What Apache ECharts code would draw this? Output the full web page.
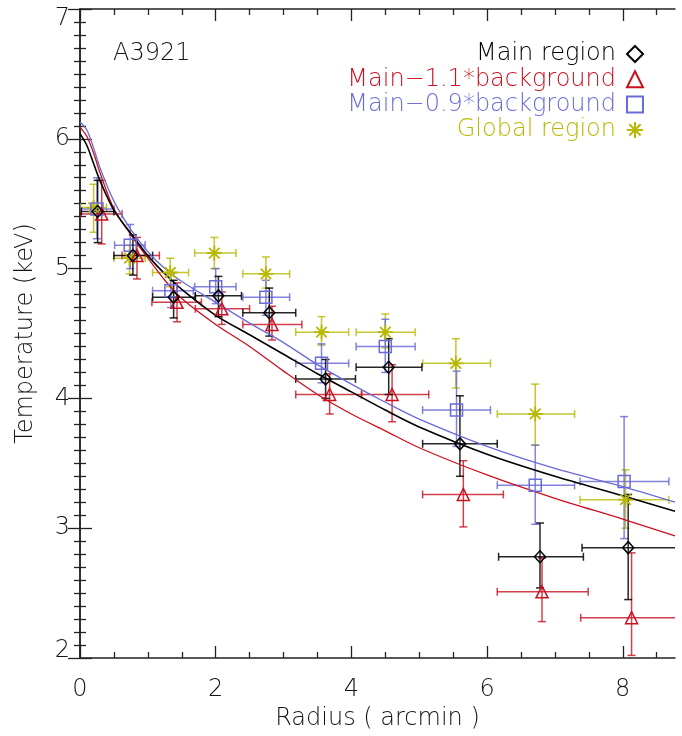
<!DOCTYPE html>
<html>
<head>
<meta charset="utf-8">
<script src="https://cdn.jsdelivr.net/npm/echarts@6/dist/echarts.min.js"></script>
<style>
html,body{margin:0;padding:0;background:#fff;}
#chart{width:682px;height:736px;}
</style>
</head>
<body>
<div id="chart"></div>
<script>
// ---- Data ----
const clusterName = 'A3921';
const seriesNames = ['Main region', 'Main\u22121.1*background', 'Main\u22120.9*background', 'Global region'];

// Main region (diamonds)
const mainR    = [0.26, 0.78, 1.38, 2.04, 2.79, 3.62, 4.55, 5.60, 6.78, 8.08];
const mainT    = [5.44, 5.10, 4.78, 4.79, 4.66, 4.15, 4.24, 3.65, 2.78, 2.85];
const mainRlo  = [0.02, 0.50, 1.07, 1.70, 2.40, 3.18, 4.07, 5.05, 6.17, 7.40];
const mainRhi  = [0.50, 1.07, 1.70, 2.38, 3.18, 4.06, 5.04, 6.15, 7.42, 8.85];
const mainTlo  = [5.20, 4.95, 4.62, 4.63, 4.48, 4.00, 4.03, 3.40, 2.54, 2.45];
const mainThi  = [5.68, 5.26, 4.91, 4.94, 4.85, 4.30, 4.46, 4.02, 3.04, 3.26];

// Main - 1.1*background (triangles)
const bg11R    = [0.32, 0.84, 1.43, 2.09, 2.83, 3.68, 4.60, 5.65, 6.81, 8.13];
const bg11T    = [5.42, 5.10, 4.74, 4.69, 4.57, 4.03, 4.03, 3.26, 2.51, 2.31];
const bg11Rlo  = [0.00, 0.62, 1.06, 1.70, 2.40, 3.18, 4.15, 5.05, 6.15, 7.38];
const bg11Rhi  = [0.62, 1.17, 1.79, 2.50, 3.27, 4.15, 5.14, 6.24, 7.49, 8.85];
const bg11Tlo  = [5.19, 4.92, 4.59, 4.57, 4.45, 3.88, 3.82, 3.01, 2.28, 2.02];
const bg11Thi  = [5.68, 5.24, 4.89, 4.82, 4.71, 4.19, 4.26, 3.52, 2.77, 2.81];

// Main - 0.9*background (squares)
const bg09R    = [0.25, 0.74, 1.34, 2.00, 2.74, 3.56, 4.50, 5.55, 6.71, 8.02];
const bg09T    = [5.46, 5.18, 4.83, 4.86, 4.78, 4.27, 4.40, 3.91, 3.33, 3.36];
const bg09Rlo  = [0.00, 0.51, 1.07, 1.69, 2.40, 3.18, 4.07, 5.05, 6.15, 7.37];
const bg09Rhi  = [0.50, 0.96, 1.67, 2.30, 3.09, 3.96, 4.94, 6.05, 7.29, 8.68];
const bg09Tlo  = [5.23, 5.00, 4.70, 4.73, 4.64, 4.12, 4.20, 3.63, 3.03, 2.92];
const bg09Thi  = [5.70, 5.34, 4.96, 5.00, 4.91, 4.42, 4.61, 4.21, 3.64, 3.86];

// Global region (asterisks)
const globR    = [0.20, 0.73, 1.33, 1.98, 2.74, 3.56, 4.50, 5.54, 6.71, 8.04];
const globT    = [5.47, 5.08, 4.97, 5.12, 4.96, 4.51, 4.51, 4.27, 3.88, 3.22];
const globRlo  = [0.01, 0.50, 1.07, 1.69, 2.40, 3.18, 4.07, 5.05, 6.15, 7.37];
const globRhi  = [0.39, 0.96, 1.60, 2.30, 3.09, 3.96, 4.94, 6.05, 7.29, 8.68];
const globTlo  = [5.28, 4.96, 4.86, 5.00, 4.85, 4.41, 4.39, 4.08, 3.64, 3.00];
const globThi  = [5.65, 5.18, 5.08, 5.24, 5.09, 4.63, 4.65, 4.46, 4.11, 3.45];

// Fitted profiles
const fitR     = [0, 0.1, 0.2, 0.3, 0.5, 0.75, 1, 1.25, 1.5, 2, 2.5, 3, 3.5, 4, 4.5, 5, 6, 7, 8, 8.77];
const fitMain  = [6.04, 5.95, 5.81, 5.67, 5.45, 5.27, 5.10, 4.96, 4.84, 4.64, 4.49, 4.34, 4.19, 4.05, 3.91, 3.78, 3.57, 3.40, 3.25, 3.13];
const fitBg11  = [6.09, 6.02, 5.89, 5.73, 5.46, 5.26, 5.08, 4.91, 4.77, 4.57, 4.40, 4.21, 4.03, 3.88, 3.75, 3.62, 3.41, 3.23, 3.07, 2.94];
const fitBg09  = [6.13, 6.07, 5.93, 5.77, 5.52, 5.30, 5.13, 5.00, 4.90, 4.74, 4.58, 4.43, 4.26, 4.11, 3.97, 3.84, 3.63, 3.46, 3.32, 3.20];

// Axes
const xMin = 0, xMax = 8.77, yMin = 2, yMax = 7;
const xMajor = [0, 2, 4, 6, 8];
const xMinor = [0.5, 1, 1.5, 2.5, 3, 3.5, 4.5, 5, 5.5, 6.5, 7, 7.5, 8.5];

// ---- Styling ----
const FONT = 'DejaVu Sans';
const FW = 200;
const TXT = '#151515';
const AX = '#222222';
const colors = ['#000000', '#cc1020', '#6a6ad8', '#b8b800'];
const barColors = ['rgba(0,0,0,0.85)', 'rgba(200,16,32,0.8)', 'rgba(100,100,215,0.8)', 'rgba(184,184,0,0.8)'];
const symbols = ['diamond', 'triangle', 'rect',
  'path://M10,0L10,20M0,10L20,10M3,3L17,17M3,17L17,3'];

function rows(r, t, rlo, rhi, tlo, thi) {
  return r.map((v, i) => [v, t[i], rlo[i], rhi[i], tlo[i], thi[i]]);
}
function pairs(a, b) { return a.map((v, i) => [v, b[i]]); }

const groups = [
  rows(mainR, mainT, mainRlo, mainRhi, mainTlo, mainThi),
  rows(bg11R, bg11T, bg11Rlo, bg11Rhi, bg11Tlo, bg11Thi),
  rows(bg09R, bg09T, bg09Rlo, bg09Rhi, bg09Tlo, bg09Thi),
  rows(globR, globT, globRlo, globRhi, globTlo, globThi)
];
const fits = [fitMain, fitBg11, fitBg09];

function makeErr(color) {
  return function (params, api) {
    const x = api.value(0), y = api.value(1);
    const c = api.coord([x, y]);
    const xl = api.coord([api.value(2), y])[0];
    const xh = api.coord([api.value(3), y])[0];
    const yl = api.coord([x, api.value(4)])[1];
    const yh = api.coord([x, api.value(5)])[1];
    const cap = 4;
    const st = { stroke: color, lineWidth: 1.5, fill: null };
    return {
      type: 'group',
      children: [
        { type: 'line', shape: { x1: xl, y1: c[1], x2: xh, y2: c[1] }, style: st },
        { type: 'line', shape: { x1: xl, y1: c[1] - cap, x2: xl, y2: c[1] + cap }, style: st },
        { type: 'line', shape: { x1: xh, y1: c[1] - cap, x2: xh, y2: c[1] + cap }, style: st },
        { type: 'line', shape: { x1: c[0], y1: yl, x2: c[0], y2: yh }, style: st },
        { type: 'line', shape: { x1: c[0] - cap, y1: yl, x2: c[0] + cap, y2: yl }, style: st },
        { type: 'line', shape: { x1: c[0] - cap, y1: yh, x2: c[0] + cap, y2: yh }, style: st }
      ]
    };
  };
}

const series = [];
[3, 2, 1, 0].forEach(k => {
  series.push({
    type: 'custom', name: 'err' + k, xAxisIndex: 0, yAxisIndex: 0,
    renderItem: makeErr(barColors[k]), clip: true,
    data: groups[k], encode: { x: [0, 2, 3], y: [1, 4, 5] }, z: 3, silent: true
  });
});
[2, 1, 0].forEach(k => {
  series.push({
    type: 'line', name: 'fit' + k, xAxisIndex: 0, yAxisIndex: 0,
    data: pairs(fitR, fits[k]), smooth: 0.3, showSymbol: false,
    lineStyle: { color: colors[k], width: k === 0 ? 1.6 : 1.3 }, z: 4, silent: true
  });
});
[3, 2, 1, 0].forEach(k => {
  series.push({
    type: 'scatter', name: seriesNames[k], xAxisIndex: 0, yAxisIndex: 0,
    data: groups[k].map(r => [r[0], r[1]]),
    symbol: symbols[k], symbolSize: k === 3 ? 15 : (k === 0 ? [11, 12] : 12),
    itemStyle: { color: 'rgba(0,0,0,0)', borderColor: colors[k], borderWidth: k === 3 ? 1.8 : 1.5, opacity: 1 },
    z: 5, silent: true
  });
});

const tickStyle = { color: AX, width: 1.3 };
const labelStyle = { fontFamily: FONT, fontSize: 24, fontWeight: FW, color: TXT };

const option = {
  animation: false,
  backgroundColor: '#fff',
  textStyle: { fontFamily: FONT, fontWeight: FW },
  title: {
    text: clusterName, left: 108, top: 37,
    textStyle: { fontFamily: FONT, fontSize: 24, fontWeight: FW, color: TXT }
  },
  legend: {
    orient: 'vertical', right: 33, top: 37, align: 'right',
    itemWidth: 16, itemHeight: 16, itemGap: 1.3, selectedMode: false,
    textStyle: { fontFamily: FONT, fontSize: 24, fontWeight: FW, lineHeight: 24, padding: [0, 6, 0, 0] },
    data: seriesNames.map((n, k) => ({ name: n, textStyle: { color: colors[k] } }))
  },
  grid: [
    { left: 80, top: 9, width: 595, height: 649, containLabel: false },
    { left: 80, top: 9, width: 595, height: 649, containLabel: false }
  ],
  xAxis: [
    {
      type: 'value', gridIndex: 0, position: 'bottom', min: xMin, max: xMax,
      axisLine: { show: true, lineStyle: { color: AX, width: 1.5 } },
      axisTick: { show: true, inside: true, length: 12, lineStyle: tickStyle, customValues: xMajor },
      axisLabel: Object.assign({ margin: 20, customValues: xMajor }, labelStyle),
      splitLine: { show: false },
      name: 'Radius ( arcmin )', nameLocation: 'middle', nameGap: 47,
      nameTextStyle: { fontFamily: FONT, fontSize: 24, fontWeight: FW, color: TXT }
    },
    {
      type: 'value', gridIndex: 0, position: 'top', min: xMin, max: xMax,
      axisLine: { show: true, lineStyle: { color: AX, width: 1.5 } },
      axisTick: { show: true, inside: true, length: 12, lineStyle: tickStyle, customValues: xMajor },
      axisLabel: { show: false }, splitLine: { show: false }
    },
    {
      type: 'value', gridIndex: 1, position: 'bottom', min: xMin, max: xMax,
      axisLine: { show: false },
      axisTick: { show: true, inside: true, length: 6, lineStyle: tickStyle, customValues: xMinor },
      axisLabel: { show: false }, splitLine: { show: false }
    },
    {
      type: 'value', gridIndex: 1, position: 'top', min: xMin, max: xMax,
      axisLine: { show: false },
      axisTick: { show: true, inside: true, length: 6, lineStyle: tickStyle, customValues: xMinor },
      axisLabel: { show: false }, splitLine: { show: false }
    }
  ],
  yAxis: [
    {
      type: 'value', gridIndex: 0, position: 'left', min: yMin, max: yMax, interval: 1,
      axisLine: { show: true, lineStyle: { color: AX, width: 1.5 } },
      axisTick: { show: true, inside: true, length: 12, lineStyle: tickStyle },
      minorTick: { show: true, splitNumber: 10, length: 6, lineStyle: tickStyle },
      axisLabel: Object.assign({
        margin: 10,
        formatter: function (v) {
          if (v === yMax) return '{top|' + v + '}';
          if (v === yMin) return '{bot|' + v + '}';
          return '{mid|' + v + '}';
        },
        rich: {
          top: { fontFamily: FONT, fontSize: 24, fontWeight: FW, color: TXT, padding: [20, 0, 0, 0] },
          bot: { fontFamily: FONT, fontSize: 24, fontWeight: FW, color: TXT, padding: [0, 0, 14, 0] },
          mid: { fontFamily: FONT, fontSize: 24, fontWeight: FW, color: TXT }
        }
      }, labelStyle),
      splitLine: { show: false }, minorSplitLine: { show: false },
      name: 'Temperature (keV)', nameLocation: 'middle', nameGap: 42, nameRotate: 90,
      nameTextStyle: { fontFamily: FONT, fontSize: 24, fontWeight: FW, color: TXT }
    },
    {
      type: 'value', gridIndex: 0, position: 'right', min: yMin, max: yMax, interval: 1,
      axisLine: { show: true, lineStyle: { color: AX, width: 1.5 } },
      axisTick: { show: true, inside: true, length: 12, lineStyle: tickStyle },
      minorTick: { show: true, splitNumber: 10, length: 6, lineStyle: tickStyle },
      axisLabel: { show: false }, splitLine: { show: false }, minorSplitLine: { show: false }
    },
    {
      type: 'value', gridIndex: 1, min: yMin, max: yMax, show: false
    }
  ],
  series: series
};

const chart = echarts.init(document.getElementById('chart'), null, { renderer: 'canvas' });
chart.setOption(option);
</script>
</body>
</html>
